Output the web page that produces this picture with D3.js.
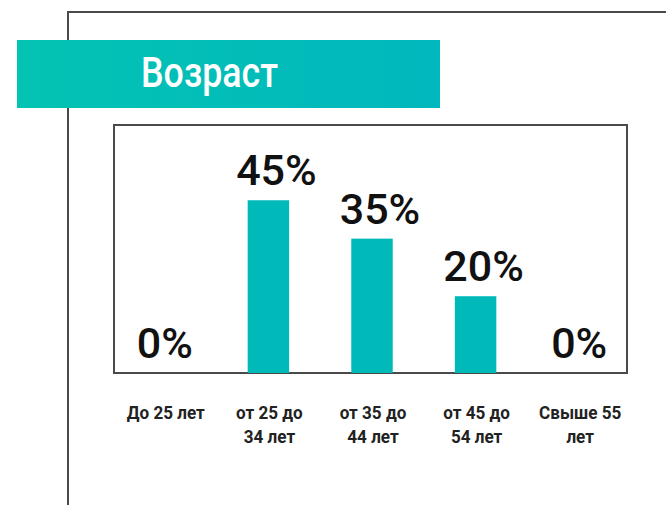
<!DOCTYPE html>
<html>
<head>
<meta charset="utf-8">
<script src="https://cdn.jsdelivr.net/npm/d3@7"></script>
<style>
  body { margin: 0; background: #fff; }
  svg { display: block; }
  .title { font-family: Roboto, sans-serif; font-weight: 500; fill: #fff; }
  .value-label { font-family: Roboto, "Noto Sans", sans-serif; font-weight: 500; fill: #111; }
  .x-label { font-family: Roboto, sans-serif; font-weight: bold; fill: #222; }
</style>
</head>
<body>
<div id="wrapper"></div>
<script>
const title = "Возраст"
const categories = ["До 25 лет", "от 25 до 34 лет", "от 35 до 44 лет", "от 45 до 54 лет", "Свыше 55 лет"]
const tickLines = [
  ["До 25 лет"],
  ["от 25 до", "34 лет"],
  ["от 35 до", "44 лет"],
  ["от 45 до", "54 лет"],
  ["Свыше 55", "лет"],
]
const values = [0, 45, 35, 20, 0]

function drawBars() {

  // 1. Access data
  const dataset = categories.map((c, i) => ({ category: c, value: values[i], lines: tickLines[i] }))
  const xAccessor = d => d.category
  const yAccessor = d => d.value

  // 2. Create chart dimensions
  let dimensions = {
    width: 666,
    height: 505,
    box: { left: 114, right: 627, top: 125, bottom: 373 },
  }

  // 3. Draw canvas
  const wrapper = d3.select("#wrapper")
    .append("svg")
      .attr("width", dimensions.width)
      .attr("height", dimensions.height)

  // outer frame
  wrapper.append("path")
      .attr("d", "M68,505 V12 H666")
      .attr("fill", "none")
      .attr("stroke", "#4a4a4a")
      .attr("stroke-width", 2)

  // title banner
  const grad = wrapper.append("defs").append("linearGradient")
      .attr("id", "banner")
  grad.append("stop").attr("offset", "0%").attr("stop-color", "#03c3b3")
  grad.append("stop").attr("offset", "100%").attr("stop-color", "#00b8bd")

  wrapper.append("rect")
      .attr("x", 17)
      .attr("y", 40)
      .attr("width", 423)
      .attr("height", 68)
      .attr("fill", "url(#banner)")

  // condensed look: squeeze the glyphs to the reference width
  wrapper.append("text")
      .attr("class", "title")
      .attr("x", 141)
      .attr("y", 87)
      .attr("textLength", 137)
      .attr("lengthAdjust", "spacingAndGlyphs")
      .style("font-size", "43px")
      .text(title)

  // chart box
  const box = dimensions.box
  wrapper.append("rect")
      .attr("x", box.left)
      .attr("y", box.top)
      .attr("width", box.right - box.left)
      .attr("height", box.bottom - box.top)
      .attr("fill", "none")
      .attr("stroke", "#4a4a4a")
      .attr("stroke-width", 2)

  // 4. Create scales
  const xScale = d3.scaleBand()
    .domain(dataset.map(xAccessor))
    .range([113, 631])
    .paddingInner(0.6)
    .paddingOuter(0.3)

  const yScale = d3.scaleLinear()
    .domain([0, 64.6])
    .range([box.bottom, box.top])

  // 5. Draw data
  const center = d => xScale(xAccessor(d)) + xScale.bandwidth() / 2

  wrapper.append("g")
    .selectAll("rect")
    .data(dataset.filter(d => yAccessor(d) > 0))
    .join("rect")
      .attr("x", d => xScale(xAccessor(d)))
      .attr("y", d => yScale(yAccessor(d)))
      .attr("width", xScale.bandwidth())
      .attr("height", d => box.bottom - yScale(yAccessor(d)))
      .attr("fill", "#00b9b9")

  wrapper.append("g")
    .selectAll("text")
    .data(dataset)
    .join("text")
      .attr("class", "value-label")
      .attr("x", d => center(d) + (yAccessor(d) > 0 ? 8 : 0))
      .attr("y", d => yScale(yAccessor(d)) - 15)
      .attr("text-anchor", "middle")
      .style("font-size", "43px")
      .text(d => `${yAccessor(d)}%`)

  // 6. Draw peripherals
  const xLabels = wrapper.append("g")
    .selectAll("text")
    .data(dataset)
    .join("text")
      .attr("class", "x-label")
      .attr("text-anchor", "middle")
      .attr("transform", d => `translate(${center(d) + 1}, 419) scale(0.9, 1)`)
      .style("font-size", "19px")

  xLabels.selectAll("tspan")
    .data(d => d.lines)
    .join("tspan")
      .attr("x", 0)
      .attr("dy", (d, i) => i ? 24 : 0)
      .text(d => d)
}
drawBars()
</script>
</body>
</html>
